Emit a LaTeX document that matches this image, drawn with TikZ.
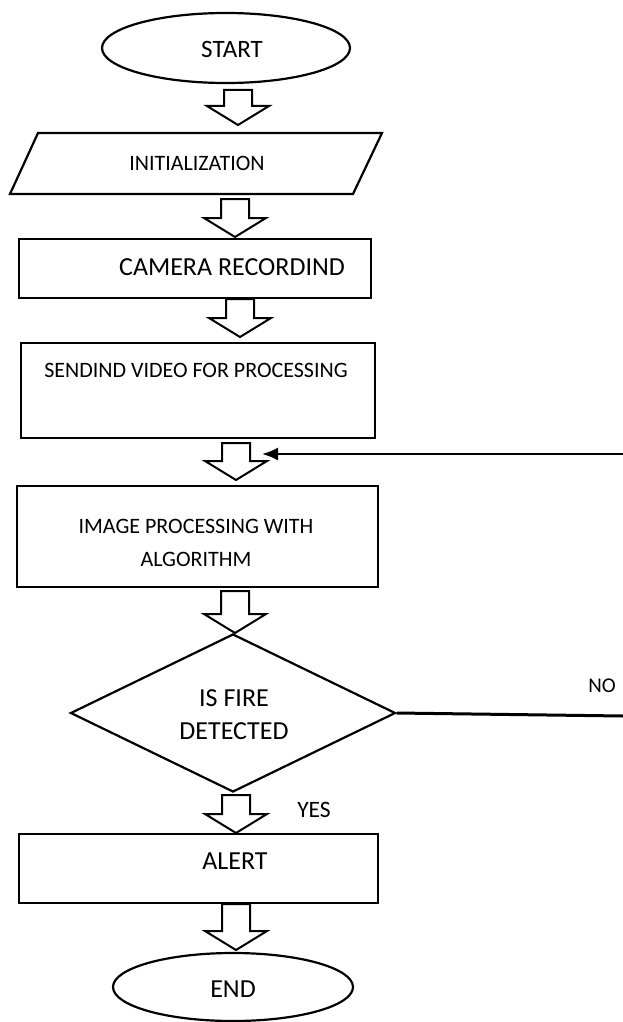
\documentclass[tikz,border=0pt]{standalone}
\usepackage{fontspec}
\setmainfont{Carlito}
\usetikzlibrary{shapes.geometric,arrows.meta}
\newcommand\holarrow[3]{%
  \draw[blk] ({#1-14},#2) -- ({#1+14},#2) -- ({#1+14},{#3-19}) -- ({#1+31},{#3-19})
    -- (#1,#3) -- ({#1-31},{#3-19}) -- ({#1-14},{#3-19}) -- cycle;}
\begin{document}
\begin{tikzpicture}[x=1pt,y=-1pt,
  line width=2.2pt,
  box/.style={draw, rectangle, inner sep=0pt, anchor=north west},
  term/.style={draw, ellipse, inner sep=0pt},
  lbl/.style={font=\fontsize{22}{33}\selectfont, align=center, inner sep=0pt},
  big/.style={font=\fontsize{26}{33}\selectfont, align=center, inner sep=0pt},
  blk/.style={draw, line width=2pt, fill=white, line join=miter},
  fb/.style={line width=2pt, -{Latex[length=16pt,width=13pt]}},
]
\useasboundingbox (0,0) rectangle (623,1022);

% START
\node[term, minimum width=248pt, minimum height=70pt] (start) at (226,48) {};
\node[big, font=\fontsize{25}{30}\selectfont] (startt) at (232,49) {START};

% INITIALIZATION parallelogram
\coordinate (p1) at (38,133);
\coordinate (p2) at (382,133);
\coordinate (p3) at (353,194);
\coordinate (p4) at (10,194);
\draw (p1) -- (p2) -- (p3) -- (p4) -- cycle;
\node[lbl] (init) at (197,163) {INITIALIZATION};

% CAMERA
\node[box, minimum width=352pt, minimum height=59pt] (cam) at (18,238) {};
\node[big] (camt) at (232,267) {CAMERA RECORDIND};

% SENDING
\node[box, minimum width=354pt, minimum height=95pt] (send) at (20,342) {};
\node[lbl, font=\fontsize{22}{30}\selectfont] (sendt) at (196,370) {SENDIND VIDEO FOR PROCESSING};

% IMAGE PROCESSING
\node[box, minimum width=361pt, minimum height=101pt] (img) at (16,485) {};
\node[lbl] (imgt) at (196,543) {IMAGE PROCESSING WITH\\ALGORITHM};

% DECISION
\node[draw, diamond, minimum width=325pt, minimum height=158pt, inner sep=0pt] (dec) at (233,713) {};
\node[big] (dect) at (234,715) {IS FIRE\\DETECTED};

% ALERT
\node[box, minimum width=359pt, minimum height=69pt] (alert) at (18,833) {};
\node[big] (alertt) at (235,861) {ALERT};

% END
\node[term, minimum width=240pt, minimum height=68pt] (end) at (233,987) {};
\node[big] (endt) at (233,989) {END};

% hollow block arrows
\holarrow{238}{90}{125}
\holarrow{235}{199}{237}
\holarrow{240}{299}{337}
\holarrow{236}{443}{480}
\holarrow{235}{591}{633}
\holarrow{236}{795}{833}
\holarrow{236}{904}{950}

% feedback and NO branch
\coordinate (fbR) at (623,454);
\coordinate (fbT) at (262,454);
\draw[fb] (fbR) -- (fbT);
\coordinate (noR) at (623,716);
\draw[line width=3pt] (dec.east) -- (noR);

\node[big, font=\fontsize{23.5}{28}\selectfont] (yes) at (314,810) {YES};
\node[big, font=\fontsize{21}{26}\selectfont] (no) at (602,686) {NO};
\end{tikzpicture}
\end{document}
